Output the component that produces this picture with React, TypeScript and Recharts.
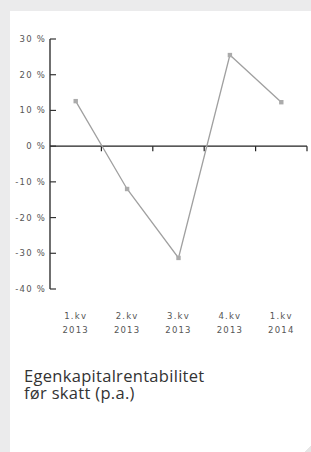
import { LineChart, Line, XAxis, YAxis, ReferenceLine } from "recharts"

const quarters = ["1.kv", "2.kv", "3.kv", "4.kv", "1.kv"]
const years = ["2013", "2013", "2013", "2013", "2014"]
const roe = [12.6, -12.0, -31.3, 25.5, 12.3]
const yTicks = [-40, -30, -20, -10, 0, 10, 20, 30]

const data = quarters.map((q, i) => ({ x: i + 0.5, q, year: years[i], roe: roe[i] }))
const xTicks = data.map((d) => d.x)
const bounds = quarters.map((_, i) => i + 1)

const tickFont = {
  fontFamily: "DejaVu Sans",
  fontSize: 8.5,
  fill: "#555",
  letterSpacing: 1.2,
}

function YTick(props: any) {
  const { x, y, payload } = props
  return (
    <g>
      <line x1={x} x2={x + 6} y1={y} y2={y} stroke="#333" strokeWidth={1.2} />
      <text x={x - 4} y={y} dy="0.35em" textAnchor="end" style={tickFont}>
        {`${payload.value} %`}
      </text>
    </g>
  )
}

function XTick(props: any) {
  const { x, y, index } = props
  return (
    <text x={x} y={y} textAnchor="middle" style={tickFont}>
      <tspan x={x} dy={30}>{quarters[index]}</tspan>
      <tspan x={x} dy={13.5}>{years[index]}</tspan>
    </text>
  )
}

function SquareDot(props: any) {
  const { cx, cy } = props
  if (cx == null || cy == null) return null
  return <rect x={cx - 2.2} y={cy - 2.2} width={4.4} height={4.4} fill="#ababab" />
}

export default function App() {
  return (
    <div style={{ position: "absolute", left: 0, top: 0, width: 311, height: 452, background: "#ebebec", overflow: "hidden" }}>
      <div style={{ position: "absolute", left: 10, top: 11, right: 0, bottom: 0, background: "#fff" }} />
      <div
        style={{
          position: "absolute",
          right: 0,
          bottom: 0,
          width: 6,
          height: 7,
          background: "linear-gradient(135deg, #fff 50%, #e6e6e6 50%)",
        }}
      />
      <div style={{ position: "absolute", left: 0, top: 0 }}>
        <LineChart width={311} height={340} data={data} margin={{ top: 39, right: 4, left: 0, bottom: 0 }}>
          <XAxis
            type="number"
            dataKey="x"
            domain={[0, 5]}
            ticks={xTicks}
            axisLine={false}
            tickLine={false}
            tickSize={0}
            tickMargin={0}
            height={51}
            interval={0}
            tick={<XTick />}
          />
          <YAxis
            type="number"
            domain={[-40, 30]}
            ticks={yTicks}
            width={50}
            axisLine={{ stroke: "#333", strokeWidth: 1.4 }}
            tickLine={false}
            tickSize={0}
            tickMargin={0}
            interval={0}
            tick={<YTick />}
          />
          <ReferenceLine y={0} stroke="#222" strokeWidth={1.3} />
          {bounds.map((b) => (
            <ReferenceLine
              key={b}
              segment={[
                { x: b, y: 0 },
                { x: b, y: -1.4 },
              ]}
              stroke="#222"
              strokeWidth={1.2}
            />
          ))}
          <Line
            type="linear"
            dataKey="roe"
            stroke="#a0a0a0"
            strokeWidth={1.3}
            dot={<SquareDot />}
            activeDot={false}
            isAnimationActive={false}
          />
        </LineChart>
      </div>
      <div
        style={{
          position: "absolute",
          left: 24,
          top: 366.8,
          fontFamily: "'Open Sans'",
          fontSize: 16.5,
          letterSpacing: 0.3,
          lineHeight: "17px",
          color: "#333",
        }}
      >
        Egenkapitalrentabilitet
        <br />
        før skatt (p.a.)
      </div>
    </div>
  )
}
